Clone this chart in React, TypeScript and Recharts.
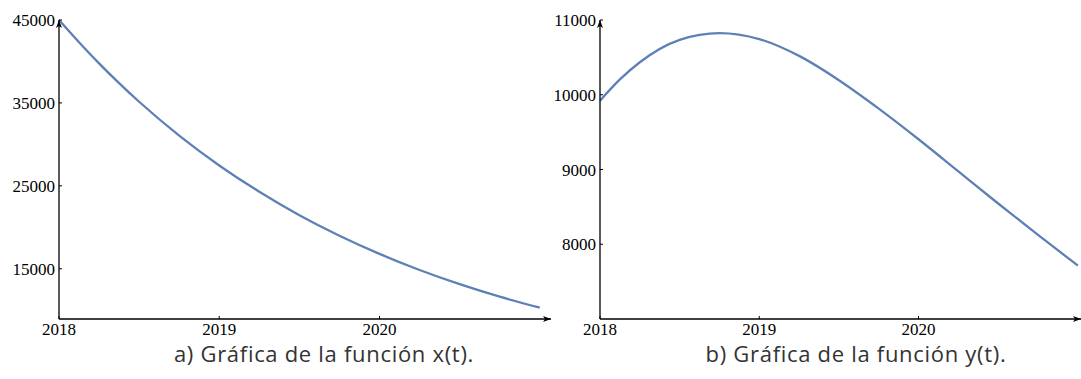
import { LineChart, Line, XAxis, YAxis } from 'recharts';

// time in years (quarters, plus one extra early sample)
const years = [
  2018, 2018.125, 2018.25, 2018.5, 2018.75, 2019, 2019.25, 2019.5,
  2019.75, 2020, 2020.25, 2020.5, 2020.75, 2021,
];

// x(t) read off panel a)
const xValues = [
  45000, 42320, 39765, 35140, 31060, 27460, 24280, 21460,
  18980, 16790, 14850, 13140, 11630, 10300,
];

// y(t) read off panel b)
const yValues = [
  9920, 10205, 10435, 10735, 10825, 10745, 10520, 10195,
  9815, 9405, 8975, 8545, 8125, 7715,
];

const yearTicks = [2018, 2019, 2020];
const xTicks = [15000, 25000, 35000, 45000];
const yTicks = [8000, 9000, 10000, 11000];

const xData = years.map((t, i) => ({ t, v: xValues[i] }));
const yData = years.map((t, i) => ({ t, v: yValues[i] }));

const LINE = '#5e81b5';
const tickStyle = { fill: '#000', fontSize: 17, fontFamily: '"Liberation Serif", "Times New Roman", serif' };

const Arrow = ({ id }: { id: string }) => (
  <defs>
    <marker id={id} viewBox="0 0 8 6" refX={8} refY={3} markerWidth={8} markerHeight={6}
      markerUnits="userSpaceOnUse" orient="auto-start-reverse">
      <path d="M0,0 L8,3 L0,6 L2,3 z" fill="#000" />
    </marker>
  </defs>
);

const Panel = ({ data, id, xMax, yDomain, ticks, yAxisWidth, width }: {
  data: { t: number; v: number }[];
  id: string;
  xMax: number;
  yDomain: [number, number];
  ticks: number[];
  yAxisWidth: number;
  width: number;
}) => (
  <LineChart width={width} height={345} data={data} margin={{ top: 20, right: 0, bottom: 0, left: 0 }}>
    <Arrow id={id} />
    <XAxis
      dataKey="t"
      type="number"
      domain={[2018, xMax]}
      ticks={yearTicks}
      interval={0}
      height={26}
      tick={tickStyle}
      tickSize={-3}
      tickMargin={7}
      tickLine={{ stroke: '#000' }}
      axisLine={{ stroke: '#000', strokeWidth: 1.3, markerEnd: `url(#${id})` }}
    />
    <YAxis
      type="number"
      domain={yDomain}
      ticks={ticks}
      interval={0}
      width={yAxisWidth}
      tick={tickStyle}
      tickSize={-3}
      tickMargin={7}
      tickLine={{ stroke: '#000' }}
      axisLine={{ stroke: '#000', strokeWidth: 1.3, markerStart: `url(#${id})` }}
    />
    <Line type="monotone" dataKey="v" stroke={LINE} strokeWidth={2.3} dot={false} isAnimationActive={false} />
  </LineChart>
);

const captionStyle = {
  position: 'absolute' as const,
  top: 338,
  width: 400,
  textAlign: 'center' as const,
  fontFamily: '"Open Sans", "Noto Sans", sans-serif',
  fontSize: 22,
  letterSpacing: 0.7,
  color: '#333',
};

export default function App() {
  return (
    <div style={{ position: 'relative', width: 1081, height: 379, background: '#fff', overflow: 'hidden' }}>
      <style>{'body{margin:0}'}</style>
      <div style={{ position: 'absolute', left: 0, top: 0 }}>
        <Panel data={xData} id="arrA" xMax={2021.07} yDomain={[8940, 45000]} ticks={xTicks} yAxisWidth={59} width={551} />
      </div>
      <div style={{ position: 'absolute', left: 540, top: 0 }}>
        <Panel data={yData} id="arrB" xMax={2021.02} yDomain={[7000, 11000]} ticks={yTicks} yAxisWidth={60} width={541} />
      </div>
      <div style={{ ...captionStyle, left: 124 }}>a) Gráfica de la función x(t).</div>
      <div style={{ ...captionStyle, left: 656 }}>b) Gráfica de la función y(t).</div>
    </div>
  );
}
